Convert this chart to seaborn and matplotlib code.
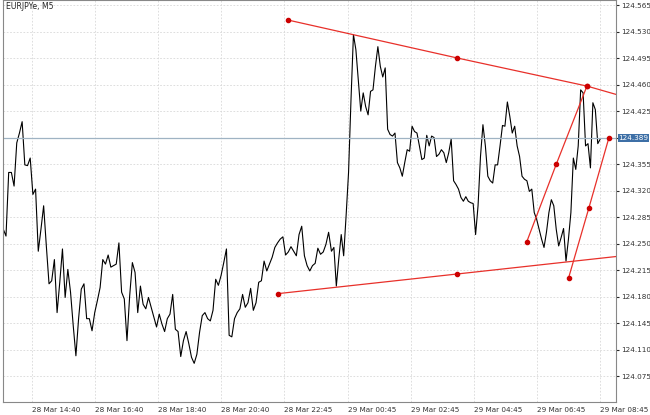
import matplotlib
matplotlib.use("Agg")
import matplotlib.pyplot as plt
import seaborn as sns
import numpy as np
import pandas as pd

prices_a = [124.269,124.260,124.344,124.344,124.326,124.383,124.396,124.411,124.354,124.353,124.363,124.315,124.322,124.240,124.269,124.300,124.247,124.197,124.201,124.229,124.159,124.199,124.243,124.179,124.216,124.186,124.142,124.102,124.151,124.190,124.197,124.151,124.151,124.135,124.159,124.175,124.192,124.229,124.223,124.235,124.219,124.221,124.223,124.251,124.186,124.177,124.122,124.181,124.225,124.212,124.159,124.194,124.170,124.164,124.179,124.166,124.153,124.140,124.157,124.144,124.134,124.151,124.157,124.183,124.137,124.134,124.101,124.122,124.134,124.118,124.100,124.092,124.104,124.133,124.155,124.159,124.151,124.148,124.162,124.203,124.195,124.208,124.225,124.243,124.129,124.127,124.151,124.159,124.164,124.183,124.166,124.172,124.191,124.162,124.172,124.199,124.201,124.227,124.214,124.223,124.232,124.245,124.251,124.256,124.259,124.235,124.239,124.246,124.240,124.234,124.262,124.273,124.234,124.221,124.214,124.221,124.224,124.244,124.236,124.239,124.249,124.265]
prices_b = [124.240,124.245,124.194,124.230,124.262,124.234,124.287,124.344,124.440,124.526,124.506,124.466,124.425,124.449,124.431,124.420,124.451,124.453,124.484,124.510,124.484,124.470,124.482,124.401,124.394,124.392,124.396,124.357,124.350,124.339,124.357,124.374,124.372,124.405,124.398,124.396,124.379,124.361,124.363,124.393,124.379,124.392,124.390,124.365,124.368,124.374,124.370,124.357,124.370,124.388,124.333,124.328,124.322,124.311,124.306,124.312,124.306,124.304,124.303,124.262,124.300,124.365,124.407,124.379,124.339,124.333,124.330,124.354,124.354,124.379,124.406,124.405,124.437,124.418,124.396,124.405,124.379,124.365,124.339,124.335,124.333,124.319,124.322,124.291,124.282,124.269,124.256,124.245,124.265,124.291,124.308,124.300,124.269,124.247,124.258,124.270,124.227,124.256,124.291,124.363,124.348,124.379,124.453,124.449,124.379,124.382,124.350,124.436,124.427,124.382,124.388]

tick_labels = ["28 Mar 14:40","28 Mar 16:40","28 Mar 18:40","28 Mar 20:40","28 Mar 22:45",
               "29 Mar 00:45","29 Mar 02:45","29 Mar 04:45","29 Mar 06:45","29 Mar 08:45"]
yticks = [124.075,124.110,124.145,124.180,124.215,124.250,124.285,124.320,124.355,124.390,124.425,124.460,124.495,124.530,124.565]
last_price = 124.389

# time axis in hours after 28 Mar 13:40
tick_h = [1.0,3.0,5.0,7.0,9.0,11.0,13.0,15.0,17.0,19.0]
upper_h = [9.13,14.48,18.58]; upper_y = [124.545,124.495,124.458]; upper_end = (19.5,124.447)
lower_h = [8.79,14.48]; lower_y = [124.184,124.210]; lower_end = (19.5,124.233)
ch1_h = [16.67,17.61,18.58]; ch1_y = [124.252,124.355,124.458]
ch2_h = [18.0,18.64,19.27]; ch2_y = [124.205,124.297,124.389]

t = np.concatenate([np.linspace(0.1, 10.4, len(prices_a)), np.linspace(10.49, 19.0, len(prices_b))])
prices = prices_a + prices_b
sns.set_style("white")
plt.rcParams['font.family'] = ['DejaVu Sans']
fig = plt.figure(figsize=(6.5,4.15), dpi=100)
ax = fig.add_axes([3/650, 13/415, 613/650, 402/415])
df = pd.DataFrame({"t": t, "p": prices})
sns.lineplot(data=df, x="t", y="p", ax=ax, color="black", lw=0.8)
ax.axhline(last_price, color="#9fb3c3", lw=0.9)
red = "#e8302a"
for xs, ys, end in [(upper_h, upper_y, upper_end), (lower_h, lower_y, lower_end)]:
    ax.plot(xs + [end[0]], ys + [end[1]], color=red, lw=0.9)
    ax.plot(xs, ys, 'o', color="#cc0000", ms=3)
for xs, ys in [(ch1_h, ch1_y), (ch2_h, ch2_y)]:
    ax.plot(xs, ys, color=red, lw=0.9)
    ax.plot(xs, ys, 'o', color="#cc0000", ms=3)
ax.set_xlim(0.09, 19.5)
ax.set_ylim(124.041, 124.5716)
ax.yaxis.tick_right()
ax.set_yticks(yticks)
ax.set_yticklabels(["" if abs(v - last_price) < 0.005 else f"{v:.3f}" for v in yticks],
                   fontsize=5.2, color="#333333")
ax.set_xticks(tick_h)
ax.set_xticklabels(tick_labels, fontsize=5.2, ha="left", color="#333333")
ax.tick_params(length=2, pad=1.5)
ax.grid(True, ls=(0,(2,2)), color="#d8d8d8", lw=0.6)
ax.set_xlabel(""); ax.set_ylabel("")
for s in ax.spines.values():
    s.set_color("#888888"); s.set_linewidth(0.8)
ax.text(0.005, 0.995, "EURJPYe, M5", transform=ax.transAxes, fontsize=5.6, va="top", ha="left")
ax.text(1.004, last_price, f"{last_price:.3f}", transform=ax.get_yaxis_transform(), fontsize=5.2,
        va="center", ha="left", color="white",
        bbox=dict(boxstyle="square,pad=0.12", fc="#3d6fa6", ec="none"))
fig.savefig("out.png", dpi=100)
